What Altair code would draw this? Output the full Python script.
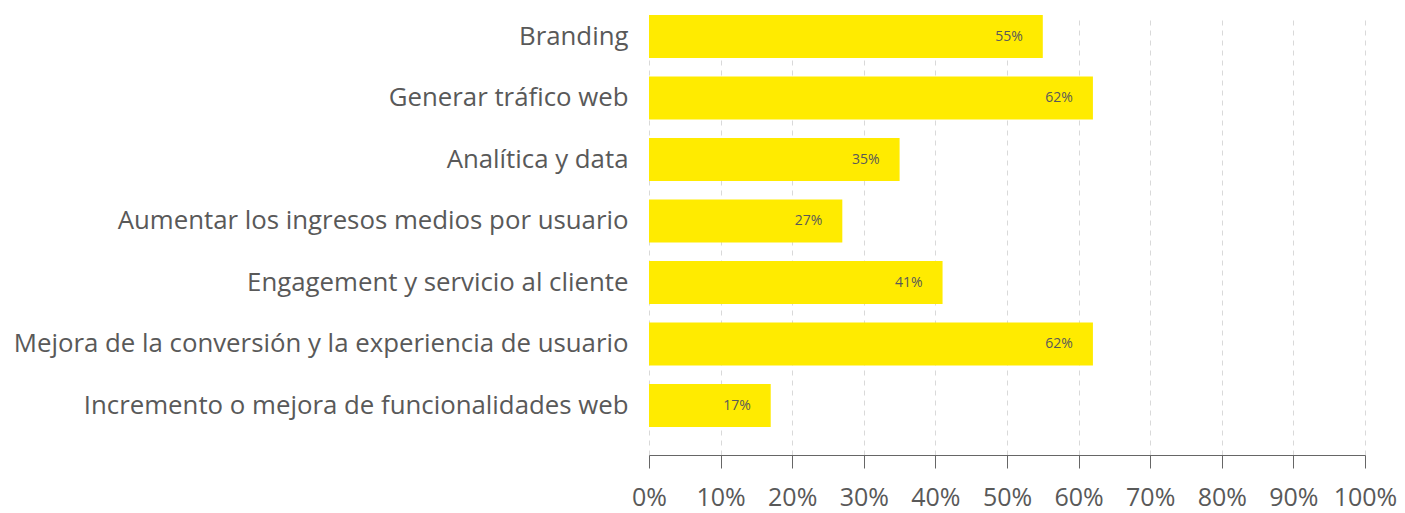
import altair as alt
import pandas as pd

categories = [
    "Branding",
    "Generar tráfico web",
    "Analítica y data",
    "Aumentar los ingresos medios por usuario",
    "Engagement y servicio al cliente",
    "Mejora de la conversión y la experiencia de usuario",
    "Incremento o mejora de funcionalidades web",
]
values = [55, 62, 35, 27, 41, 62, 17]

df = pd.DataFrame({"cat": categories, "val": values})
df["label"] = df["val"].astype(str) + "%"

FONT = "Open Sans"
TXT = "#595959"

y_enc = alt.Y("cat:N", sort=None, title=None,
              scale=alt.Scale(paddingInner=0.3, paddingOuter=0.227, align=0),
              axis=alt.Axis(domain=False, ticks=False, labelPadding=21,
                            labelFontSize=25.8,
                            labelColor=TXT, labelFont=FONT,
                            labelLimit=900))
x_enc = alt.X("val:Q", title=None,
              scale=alt.Scale(domain=[0, 100], nice=False),
              axis=alt.Axis(values=list(range(0, 101, 10)),
                            labelExpr="datum.value + '%'",
                            grid=True, gridDash=[5, 5], gridColor="#d9d9d9",
                            domainColor="#666666", tickColor="#666666",
                            tickSize=13, labelPadding=17,
                            labelFontSize=25,
                            labelColor=TXT, labelFont=FONT,
                            labelFlush=False))

bars = alt.Chart(df).mark_bar(color="#FFEB00").encode(x=x_enc, y=y_enc)
text = alt.Chart(df).mark_text(align="right", baseline="middle", dx=-20,
                               fontSize=14, font=FONT,
                               color=TXT).encode(
    x="val:Q", y=alt.Y("cat:N", sort=None), text="label:N")

chart = (bars + text).properties(
    width=716, height=440,
    autosize="none",
    padding={"left": 641, "top": 7, "right": 32, "bottom": 58},
).configure_view(stroke=None)

chart.save("out.html", embed_options={"renderer": "svg", "actions": False})
